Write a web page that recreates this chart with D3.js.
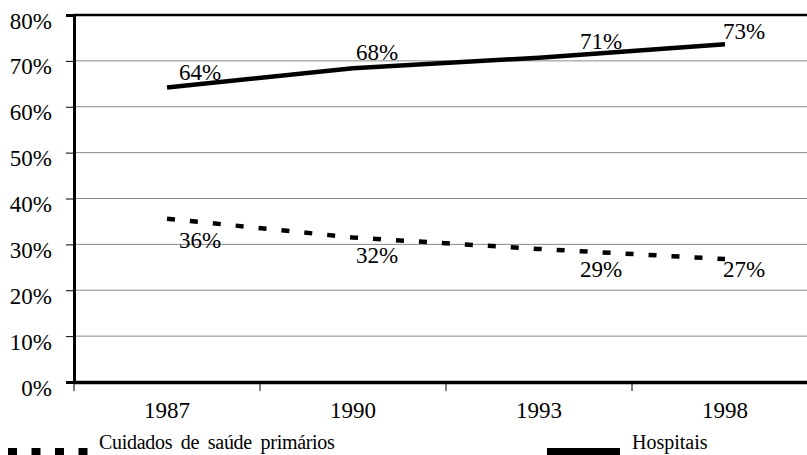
<!DOCTYPE html>
<html>
<head>
<meta charset="utf-8">
<script src="https://cdn.jsdelivr.net/npm/d3@7"></script>
</head>
<body style="margin:0; background:#fff">
<script>
// chart data
let years = ["1987", "1990", "1993", "1998"];
let hospitais = [64.2, 68.4, 70.7, 73.6];
let cuidados = [35.6, 31.5, 29.0, 26.8];
let hospLabels = ["64%", "68%", "71%", "73%"];
let cuidLabels = ["36%", "32%", "29%", "27%"];
let yTicks = [0, 10, 20, 30, 40, 50, 60, 70, 80];

let svgWidth = 807, svgHeight = 455;
let margin = { top: 15, right: -11, bottom: 73, left: 74 };
let width = svgWidth - margin.left - margin.right;
let height = svgHeight - margin.top - margin.bottom;
let fs = "23px";
let ff = "'Liberation Serif'";

let svg = d3.select("body").append("svg")
  .attr("width", svgWidth)
  .attr("height", svgHeight);

let g = svg.append("g")
  .attr("transform", `translate(${margin.left}, ${margin.top})`);

let x = d3.scaleBand().domain(years).range([0, width]);
let y = d3.scaleLinear().domain([0, 80]).range([height, 0]);

// gridlines
g.selectAll(".grid").data(yTicks.slice(1, -1)).enter().append("line")
  .attr("x1", 0).attr("x2", width)
  .attr("y1", d => y(d)).attr("y2", d => y(d))
  .attr("stroke", "#8a8a8a").attr("stroke-width", 1);

// top border
g.append("line").attr("x1", 0).attr("x2", width)
  .attr("y1", y(80)).attr("y2", y(80))
  .attr("stroke", "#000").attr("stroke-width", 2.5);

// y axis
let leftAxis = d3.axisLeft(y).tickValues(yTicks).tickSize(8).tickPadding(14)
  .tickFormat(d => d + "%");
let ya = g.append("g").call(leftAxis);
ya.select(".domain").attr("stroke-width", 3);
ya.selectAll(".tick line").attr("stroke", "#000");
ya.selectAll("text").style("font-size", fs).style("font-family", ff)
  .attr("fill", "#000").attr("dy", "13px");

// x axis
let xa = g.append("g").attr("transform", `translate(0, ${height})`)
  .call(d3.axisBottom(x).tickSize(0));
xa.select(".domain").attr("stroke-width", 3.5);
xa.selectAll("text").style("font-size", fs).style("font-family", ff)
  .attr("fill", "#000").attr("y", 36).attr("dy", 0);
xa.selectAll(".sep").data(years).enter().append("line")
  .attr("x1", d => x(d)).attr("x2", d => x(d))
  .attr("y1", 0).attr("y2", 9)
  .attr("stroke", "#000").attr("stroke-width", 1);
xa.append("line").attr("x1", x("1998") + x.bandwidth()).attr("x2", x("1998") + x.bandwidth())
  .attr("y1", 0).attr("y2", 9).attr("stroke", "#000");

let cx = d => x(d) + x.bandwidth() / 2;
let line = d3.line().x((d, i) => cx(years[i])).y(d => y(d));

g.append("path").datum(hospitais)
  .attr("d", line)
  .attr("fill", "none").attr("stroke", "#000").attr("stroke-width", 4.5);

g.append("path").datum(cuidados)
  .attr("d", line)
  .attr("fill", "none").attr("stroke", "#000").attr("stroke-width", 4.5)
  .attr("stroke-dasharray", "8,15");

// data labels
let hospOff = [[33, -7.5], [24, -8], [62, -9], [19, -5]];
let cuidOff = [[33, 29], [24, 25.5], [62, 28], [19, 18]];
g.selectAll(".hl").data(hospitais).enter().append("text")
  .attr("x", (d, i) => cx(years[i]) + hospOff[i][0])
  .attr("y", (d, i) => y(d) + hospOff[i][1])
  .attr("text-anchor", "middle").style("font-size", fs).style("font-family", ff)
  .text((d, i) => hospLabels[i]);
g.selectAll(".cl").data(cuidados).enter().append("text")
  .attr("x", (d, i) => cx(years[i]) + cuidOff[i][0])
  .attr("y", (d, i) => y(d) + cuidOff[i][1])
  .attr("text-anchor", "middle").style("font-size", fs).style("font-family", ff)
  .text((d, i) => cuidLabels[i]);

// legend
svg.append("line").attr("x1", 8).attr("x2", 95).attr("y1", 453).attr("y2", 453)
  .attr("stroke", "#000").attr("stroke-width", 10).attr("stroke-dasharray", "9,14.5");
svg.append("text").attr("x", 99).attr("y", 449).style("font-size", "20px").style("font-family", ff)
  .style("letter-spacing", "-0.3px").style("word-spacing", "4px")
  .text("Cuidados de saúde primários");
svg.append("line").attr("x1", 547).attr("x2", 620).attr("y1", 453).attr("y2", 453)
  .attr("stroke", "#000").attr("stroke-width", 10);
svg.append("text").attr("x", 632).attr("y", 449).style("font-size", "20px").style("font-family", ff)
  .text("Hospitais");
</script>
</body>
</html>
